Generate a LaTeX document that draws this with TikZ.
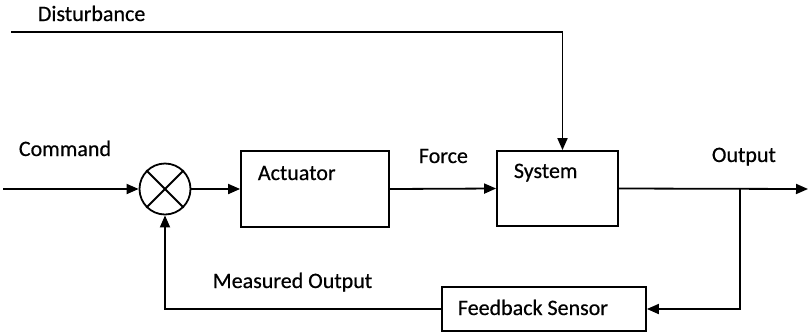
\documentclass[tikz,border=0pt]{standalone}
\usepackage{fontspec}
\setmainfont{Carlito}
\newfontfamily\lblfont[FakeBold=0.5]{Carlito}
\usetikzlibrary{arrows.meta}
\begin{document}
\begin{tikzpicture}[x=1pt,y=-1pt,
  line width=1.8pt,
  arr/.style={-{Triangle[length=12pt,width=10pt]}},
  lbl/.style={anchor=base west,inner sep=0pt,font=\fontsize{22}{26}\selectfont\lblfont},
  blk/.style={draw,rectangle,inner sep=0pt}]
\useasboundingbox (0,0) rectangle (809,333);
% labels
\node[lbl] (tdist) at (37,21) {Disturbance};
\node[lbl] (tcmd) at (18,156) {Command};
\node[lbl] (tforce) at (418,163) {Force};
\node[lbl] (tout) at (711,162) {Output};
\node[lbl] (tmeas) at (212,288) {Measured Output};
% blocks
\node[draw,circle,minimum size=51pt,inner sep=0pt] (sum) at (165,189) {};
\draw (sum.north west) -- (sum.south east);
\draw (sum.north east) -- (sum.south west);
\node[blk,minimum width=148pt,minimum height=76pt] (act) at (315,189) {};
\node[lbl] (tact) at (257,180) {Actuator};
\node[blk,minimum width=121pt,minimum height=75pt] (sys) at (557.5,188.5) {};
\node[lbl] (tsys) at (513,178) {System};
\node[blk,minimum width=204pt,minimum height=44pt] (sen) at (544,309) {};
\node[lbl] (tsen) at (457,315) {Feedback Sensor};
% free ends
\coordinate (dstart) at (11,32);
\coordinate (cstart) at (3,189);
\coordinate (branch) at (740,189);
\coordinate (outend) at (808,189);
% connectors
\draw[arr] (dstart) -| ([xshift=5pt]sys.north);
\draw[arr] (cstart) -- (sum.west);
\draw[arr] (sum.east) -- (act.west);
\draw[arr] (act.east) -- (sys.west);
\draw[arr] (sys.east) -- (outend);
\draw[arr] (branch) |- (sen.east);
\draw[arr] (sen.west) -| (sum.south);
\end{tikzpicture}
\end{document}
